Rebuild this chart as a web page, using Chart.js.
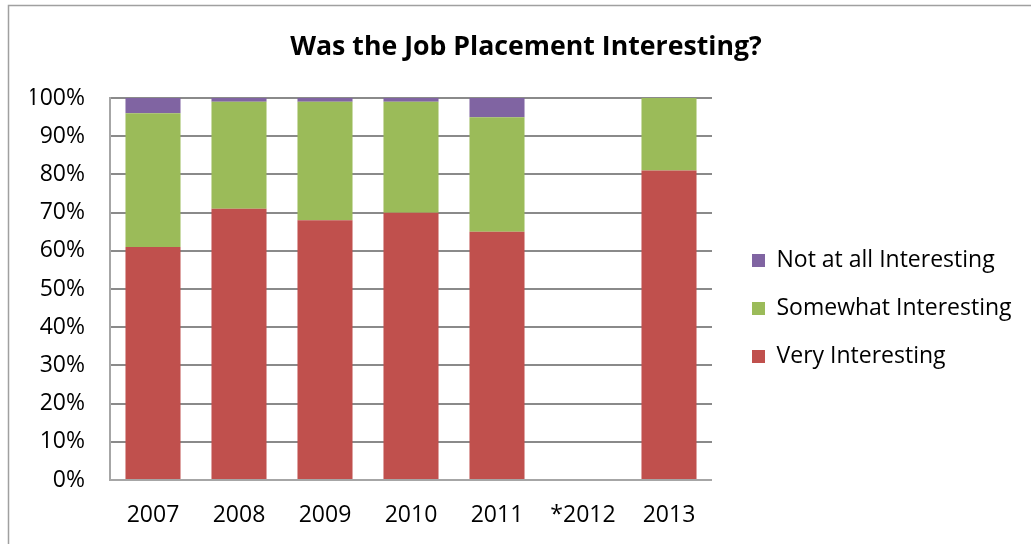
<!DOCTYPE html>
<html>
<head>
<meta charset="utf-8">
<script src="https://cdn.jsdelivr.net/npm/chart.js@4"></script>
<style>
  html, body { margin: 0; padding: 0; background: #fff; }
  #wrap { width: 1031px; height: 544px; }
</style>
</head>
<body>
<div id="wrap"><canvas id="chart" width="1031" height="544"></canvas></div>
<script>
const years = ['2007', '2008', '2009', '2010', '2011', '*2012', '2013'];
const veryInteresting = [61, 71, 68, 70, 65, null, 81];
const somewhatInteresting = [35, 28, 31, 29, 30, null, 19];
const notAtAllInteresting = [4, 1, 1, 1, 5, null, 0];
const seriesNames = ['Very Interesting', 'Somewhat Interesting', 'Not at all Interesting'];

const FONT = "'Open Sans', sans-serif";
const LEGEND_SIZE = 23;
const LEGEND_PAD = 25;
const PLOT_LEFT = 110, PLOT_RIGHT = 712, LEGEND_BOX_X = 752;

// legend width as Chart.js works it out (vertical legends get +10)
const m = document.createElement('canvas').getContext('2d');
m.font = LEGEND_SIZE + "px 'Open Sans', sans-serif";
const textW = Math.max(...seriesNames.map(s => m.measureText(s).width));
const legendW = LEGEND_PAD + 13 + LEGEND_SIZE / 2 + textW + 10;
const legendLeft = LEGEND_BOX_X - LEGEND_PAD;
const padRight = Math.max(0, 1031 - legendLeft - legendW);
const padLeft = padRight + 21; // title centred a bit right of canvas centre

// outer frame like the Excel chart border
const frame = {
    id: 'frame',
    beforeDraw(chart) {
        const ctx = chart.ctx;
        ctx.save();
        ctx.fillStyle = '#fff';
        ctx.fillRect(0, 0, chart.width, chart.height);
        ctx.strokeStyle = '#a0a0a0';
        ctx.lineWidth = 1.5;
        ctx.strokeRect(8.5, 5.5, 1100, 700);
        ctx.restore();
    }
};

new Chart(document.getElementById('chart'), {
    type: 'bar',
    data: {
        labels: years,
        datasets: [
            { label: seriesNames[0], data: veryInteresting, backgroundColor: '#C0504D' },
            { label: seriesNames[1], data: somewhatInteresting, backgroundColor: '#9BBB59' },
            { label: seriesNames[2], data: notAtAllInteresting, backgroundColor: '#8064A2' }
        ]
    },
    options: {
        responsive: false,
        animation: false,
        layout: { padding: { top: 5, left: padLeft, right: padRight, bottom: 0 } },
        datasets: { bar: { categoryPercentage: 1, barPercentage: 0.64, borderWidth: 0 } },
        scales: {
            x: {
                stacked: true,
                afterFit(s) { s.height = 64; },
                grid: { display: false, drawTicks: false },
                border: { display: false },
                ticks: { color: '#000', padding: 22, maxRotation: 0, font: { family: FONT, size: 23 } }
            },
            y: {
                stacked: true,
                min: 0,
                max: 100,
                afterFit(s) { s.width = PLOT_LEFT - padLeft; },
                grid: {
                    color: ctx => ctx.tick && ctx.tick.value === 0 ? '#a6a6a6' : '#8a8a8a',
                    lineWidth: 2,
                    drawTicks: false
                },
                border: { color: '#a6a6a6', width: 2 },
                ticks: {
                    stepSize: 10,
                    padding: 25,
                    color: '#000',
                    font: { family: FONT, size: 23 },
                    callback: v => v + '%'
                }
            },
            spacer: {
                position: 'right',
                display: true,
                afterFit(s) { s.width = legendLeft - PLOT_RIGHT; },
                grid: { display: false, drawTicks: false },
                border: { display: false },
                ticks: { display: false }
            }
        },
        plugins: {
            title: {
                display: true,
                text: 'Was the Job Placement Interesting?',
                color: '#000',
                font: { family: FONT, size: 26.7, weight: 'bold' },
                padding: { top: 26, bottom: 35 }
            },
            legend: {
                position: 'right',
                reverse: true,
                maxWidth: 400,
                title: { display: true, text: '', font: { size: 12 }, padding: { top: 53.6, bottom: 0 } },
                labels: {
                    boxWidth: 13,
                    boxHeight: 13,
                    padding: LEGEND_PAD,
                    color: '#000',
                    font: { family: FONT, size: LEGEND_SIZE }
                }
            },
            tooltip: { enabled: false }
        }
    },
    plugins: [frame]
});
</script>
</body>
</html>
